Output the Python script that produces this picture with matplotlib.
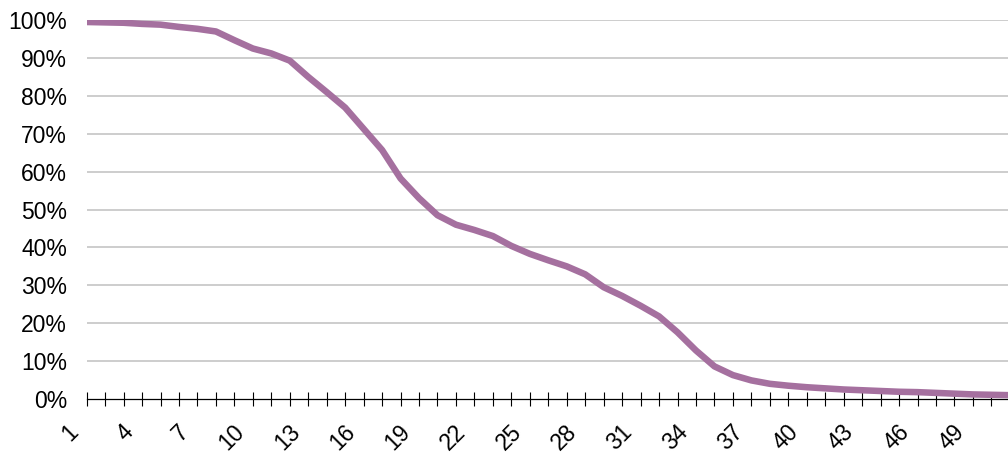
"""Cumulative share curve, redrawn from reference"""
import matplotlib
matplotlib.use('Agg')
import matplotlib.pyplot as plt
import matplotlib.transforms as mtransforms
from matplotlib.ticker import FixedLocator, FuncFormatter

plt.rcParams['font.family'] = ['Liberation Sans', 'DejaVu Sans']

# category index along x
positions = list(range(1, 52))

# share remaining (%)
share = [99.5, 99.4, 99.3, 99.0, 98.8, 98.2, 97.7, 97.0, 94.7, 92.5,
         91.2, 89.3, 85.0, 81.0, 76.9, 71.3, 65.7, 58.2, 53.0, 48.5,
         46.0, 44.6, 43.0, 40.4, 38.3, 36.6, 35.0, 32.9, 29.5, 27.2,
         24.6, 21.8, 17.6, 12.8, 8.6, 6.3, 4.9, 4.0, 3.5, 3.1,
         2.8, 2.5, 2.3, 2.1, 1.9, 1.8, 1.6, 1.4, 1.2, 1.1, 1.0]

y_ticks = [0, 10, 20, 30, 40, 50, 60, 70, 80, 90, 100]
label_step = 3

fig = plt.figure(figsize=(10.08, 4.57), dpi=100)
ax = fig.add_axes([0.086, 0.127, 0.914, 0.829])

ax.plot(positions, share, color='#A5709F', linewidth=4.7,
        solid_capstyle='round', solid_joinstyle='round', zorder=3)

ax.set_xlim(1, 50.9)
ax.set_ylim(0, 100)

# horizontal grid
for v in y_ticks[1:]:
    ax.axhline(v, color='#C0C0C0', linewidth=1.1, zorder=1)

ax.set_yticks(y_ticks)
ax.set_yticklabels([f'{v}%' for v in y_ticks])
ax.tick_params(axis='y', length=0, pad=14, labelsize=16.5)

ax.xaxis.set_major_locator(FixedLocator(positions[:50]))
ax.xaxis.set_major_formatter(FuncFormatter(
    lambda v, p: str(int(v)) if (int(v) - 1) % label_step == 0 else ''))
ax.tick_params(axis='x', direction='inout', length=10.5, width=0.8,
               color='black', pad=16, labelsize=16.5)

offset = mtransforms.ScaledTranslation(-0.12, 0, fig.dpi_scale_trans)
for lbl in ax.get_xticklabels():
    lbl.set_rotation(45)
    lbl.set_rotation_mode('anchor')
    lbl.set_ha('right')
    lbl.set_va('center')
    lbl.set_transform(lbl.get_transform() + offset)

for side in ['left', 'right', 'top']:
    ax.spines[side].set_visible(False)
ax.spines['bottom'].set_color('black')
ax.spines['bottom'].set_linewidth(0.9)
ax.spines['bottom'].set_zorder(2)

fig.savefig('out.png', dpi=100)
